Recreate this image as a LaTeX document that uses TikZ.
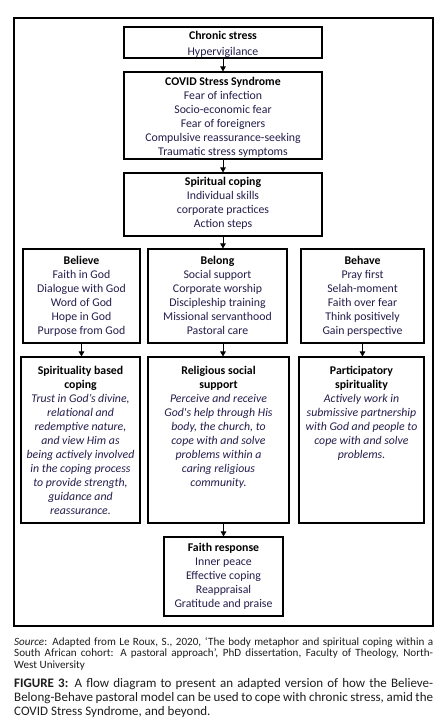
\documentclass[tikz,border=0pt]{standalone}
\usepackage{fontspec}
\setmainfont{Carlito}
\usetikzlibrary{fit,arrows.meta}
\definecolor{bodytxt}{RGB}{35,30,75}
\definecolor{captxt}{RGB}{30,30,30}
\tikzset{
  x=1pt, y=-1pt,
  box/.style={draw=black, line width=1.1pt, inner sep=0pt},
  lbl/.style={anchor=north, inner sep=0pt, align=center, font=\fontsize{11.8}{14}\selectfont, text=bodytxt},
  arr/.style={line width=0.9pt, -{Triangle[length=5pt,width=5.5pt]}},
}
\newcommand\hd[1]{\textcolor{black}{\textbf{#1}}}
\begin{document}
\begin{tikzpicture}
\useasboundingbox (0,0) rectangle (447,728);
\fill[white] (0,0) rectangle (447,728);
% outer frame
\node[box, fit={(14,18) (433,626)}] (frame) {};
% boxes
\node[box, fit={(124,27) (322,58)}] (cs) {};
\node[box, fit={(124,72) (322,159)}] (covid) {};
\node[box, fit={(124,173) (322,236)}] (sc) {};
\node[box, fit={(23,249) (140,343)}] (bel) {};
\node[box, fit={(148,249) (287,343)}] (belg) {};
\node[box, fit={(301,249) (424,343)}] (beh) {};
\node[box, fit={(21,357) (140,523)}] (sbc) {};
\node[box, fit={(148,357) (289,523)}] (rss) {};
\node[box, fit={(299,357) (424,523)}] (ps) {};
\node[box, fit={(164,537) (283,616)}] (fr) {};
% texts
\node[lbl] at ([yshift=-4.5pt]cs.north) {\hd{Chronic stress}\\[2pt]Hypervigilance};
\node[lbl] at ([yshift=-5.5pt]covid.north) {\hd{COVID Stress Syndrome}\\[0.5pt]Fear of infection\\Socio-economic fear\\Fear of foreigners\\Compulsive reassurance-seeking\\Traumatic stress symptoms};
\node[lbl] at ([yshift=-5pt]sc.north) {\hd{Spiritual coping}\\Individual skills\\corporate practices\\Action steps};
\node[lbl] at ([yshift=-8pt]bel.north) {\hd{Believe}\\Faith in God\\Dialogue with God\\Word of God\\Hope in God\\Purpose from God};
\node[lbl] at ([yshift=-8pt]belg.north) {\hd{Belong}\\Social support\\Corporate worship\\Discipleship training\\Missional servanthood\\Pastoral care};
\node[lbl] at ([yshift=-8pt]beh.north) {\hd{Behave}\\Pray first\\Selah-moment\\Faith over fear\\Think positively\\Gain perspective};
\node[lbl] at ([yshift=-9.5pt]sbc.north) {\hd{Spirituality based}\\\hd{coping}\\\itshape Trust in God’s divine,\\\itshape relational and\\\itshape redemptive nature,\\\itshape and view Him as\\\itshape being actively involved\\\itshape in the coping process\\\itshape to provide strength,\\\itshape guidance and\\\itshape reassurance.};
\node[lbl] at ([yshift=-9.5pt]rss.north) {\hd{Religious social}\\\hd{support}\\\itshape Perceive and receive\\\itshape God\textquotesingle s help through His\\\itshape body, the church, to\\\itshape cope with and solve\\\itshape problems within a\\\itshape caring religious\\\itshape community.};
\node[lbl] at ([yshift=-9.5pt]ps.north) {\hd{Participatory}\\\hd{spirituality}\\\itshape Actively work in\\\itshape submissive partnership\\\itshape with God and people to\\\itshape cope with and solve\\\itshape problems.};
\node[lbl] at ([yshift=-7pt]fr.north) {\hd{Faith response}\\Inner peace\\Effective coping\\Reappraisal\\Gratitude and praise};
% arrows
\draw[arr] (cs.south) -- (covid.north);
\draw[arr] (covid.south) -- (sc.north);
\draw[arr] (sc.south) -- (sc.south |- belg.north);
\draw[arr] (bel.south) -- (bel.south |- sbc.north);
\draw[arr] (belg.south -| sc.south) -- (rss.north -| sc.south);
\draw[arr] (beh.south) -- (beh.south |- ps.north);
\draw[arr] (rss.south -| fr.north) -- (fr.north);
% caption
\node[anchor=north west, inner sep=0pt, text width=419pt, align=justify, text=captxt,
  font=\fontsize{11.1}{11.7}\selectfont] (src) at (14,637)
  {\textit{Source}: Adapted from Le Roux, S., 2020, ‘The body metaphor and spiritual coping within a\linebreak South African cohort: A pastoral approach’, PhD dissertation, Faculty of Theology, North-\linebreak West University};
\node[anchor=north west, inner sep=0pt, text width=419pt, align=justify, text=captxt,
  font=\fontsize{13}{14.2}\selectfont] (cap) at (14,678)
  {\textbf{FIGURE 3:} A flow diagram to present an adapted version of how the Believe-\linebreak Belong-Behave pastoral model can be used to cope with chronic stress, amid the\linebreak COVID Stress Syndrome, and beyond.};
\end{tikzpicture}
\end{document}
